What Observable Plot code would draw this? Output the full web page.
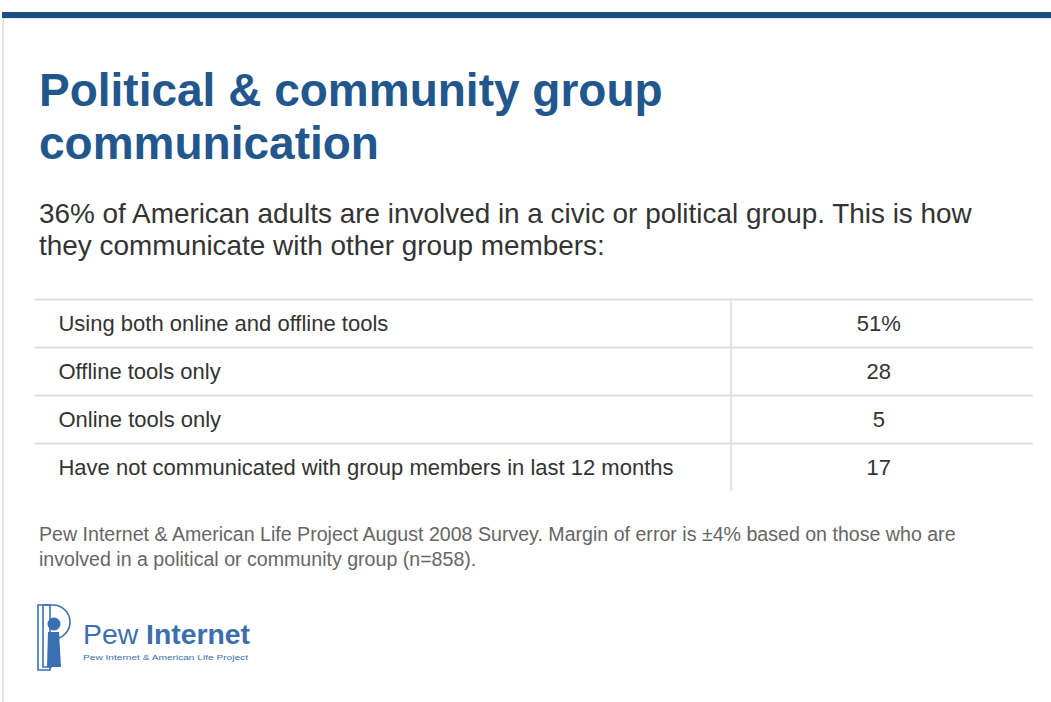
<!DOCTYPE html>
<html>
<head>
<meta charset="utf-8">
<script src="https://cdn.jsdelivr.net/npm/d3@7"></script>
<script src="https://cdn.jsdelivr.net/npm/@observablehq/plot@0.6"></script>
<style>
  html, body { margin: 0; padding: 0; background: #fff; width: 1051px; height: 702px; overflow: hidden; }
  body { position: relative; font-family: "Liberation Sans", Arial, Helvetica, sans-serif; }
  #topbar { position: absolute; left: 2px; top: 12px; width: 1049px; height: 6px; background: #1c4d80; }
  #topbar2 { position: absolute; left: 2px; top: 18px; width: 1049px; height: 1px; background: #dfeef5; }
  #leftline { position: absolute; left: 2px; top: 18px; width: 2px; height: 684px; background: #e4e4e4; }
  #title { position: absolute; left: 39px; top: 64px; margin: 0; font-size: 46px; line-height: 53px; font-weight: bold; color: #22578d; white-space: nowrap; }
  #subtitle { position: absolute; left: 39px; top: 198px; margin: 0; font-size: 27.9px; line-height: 32px; color: #333; white-space: nowrap; }
  #chart { position: absolute; left: 0; top: 280px; }
  #caption { position: absolute; left: 39px; top: 522px; margin: 0; font-size: 19.6px; line-height: 25px; color: #666; white-space: nowrap; }
  #logo { position: absolute; left: 0; top: 595px; }
</style>
</head>
<body>
<div id="topbar"></div>
<div id="topbar2"></div>
<div id="leftline"></div>
<h1 id="title">Political &amp; community group<br>communication</h1>
<p id="subtitle">36% of American adults are involved in a civic or political group. This is how<br>they communicate with other group members:</p>
<div id="chart"></div>
<p id="caption">Pew Internet &amp; American Life Project August 2008 Survey. Margin of error is ±4% based on those who are<br>involved in a political or community group (n=858).</p>
<svg id="logo" width="300" height="90" viewBox="0 0 300 90">
  <g fill="none" stroke="#3a70b3" stroke-width="1.6">
    <path d="M38,10 H50 V75 H38 Z"/>
    <path d="M43,10 H53 A16,16 0 0 1 53,44 H50"/>
    <path d="M43,10 V72 H52"/>
  </g>
  <circle cx="54" cy="29" r="6.5" fill="#3a70b3"/>
  <path d="M48,37 H59 L61,72 H47 Z" fill="#3a70b3"/>
  <text x="83" y="49" font-family="Liberation Sans, Arial, sans-serif" font-size="28" fill="#3b6fae" textLength="167" lengthAdjust="spacingAndGlyphs"><tspan>Pew </tspan><tspan font-weight="bold">Internet</tspan></text>
  <text x="83" y="65" font-family="Liberation Sans, Arial, sans-serif" font-size="8" fill="#3b6fae" textLength="165" lengthAdjust="spacingAndGlyphs">Pew Internet &amp; American Life Project</text>
</svg>
<script>
const categories = [
  "Using both online and offline tools",
  "Offline tools only",
  "Online tools only",
  "Have not communicated with group members in last 12 months"
];
const values = [51, 28, 5, 17];
const valueLabels = ["51%", "28", "5", "17"];

const rows = categories.map((c, i) => ({category: c, value: values[i], label: valueLabels[i], row: i}));
const rowTops = rows.map(d => d.row);

// column layout (fractions of table width)
const labelX = 0.023, dividerX = 0.697, valueX = 0.845;

const chart = Plot.plot({
  width: 1051,
  height: 230,
  marginTop: 19,
  marginBottom: 19,
  marginLeft: 35,
  marginRight: 18,
  style: {fontFamily: "Liberation Sans, Arial, sans-serif", background: "transparent"},
  x: {domain: [0, 1], axis: null},
  y: {domain: [0, categories.length], reverse: true, axis: null},
  marks: [
    Plot.ruleY(rowTops, {stroke: "#dcdcdc", strokeWidth: 2}),
    Plot.ruleX([dividerX], {y1: 0, y2: categories.length, stroke: "#e2e2e2", strokeWidth: 2}),
    Plot.text(rows, {x: () => labelX, y: d => d.row + 0.5, text: "category", textAnchor: "start", fontSize: 22, fill: "#333"}),
    Plot.text(rows, {x: () => valueX, y: d => d.row + 0.5, text: "label", textAnchor: "middle", fontSize: 22, fill: "#333"})
  ]
});
document.getElementById("chart").appendChild(chart);
</script>
</body>
</html>
